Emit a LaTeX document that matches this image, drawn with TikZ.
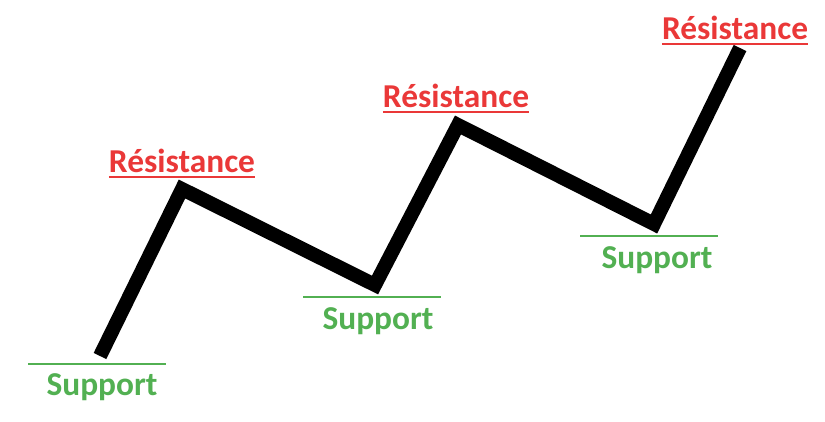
\documentclass[tikz,border=0pt]{standalone}
\usepackage{fontspec}
\setmainfont{Carlito}
\usepackage{tikz}
\usepackage{xcolor}

\definecolor{resred}{RGB}{234,56,56}
\definecolor{supgreen}{RGB}{82,176,82}

\tikzset{
  reslabel/.style={text=resred, font=\bfseries\fontsize{28.5}{30}\selectfont, inner sep=0pt, anchor=base},
  suplabel/.style={text=supgreen, font=\bfseries\fontsize{28.5}{30}\selectfont, inner sep=0pt, anchor=base},
  resline/.style={draw=resred, line width=1.7pt},
  supline/.style={draw=supgreen, line width=0.9pt},
  price/.style={draw=black, line width=12pt, line join=miter}
}

\begin{document}
\begin{tikzpicture}[x=0.03cm, y=-0.03cm]
\useasboundingbox (0,0) rectangle (825,421);

% Cours
\coordinate (p0) at (100,356);
\coordinate (p1) at (182,189);
\coordinate (p2) at (375,285);
\coordinate (p3) at (458,125);
\coordinate (p4) at (654,224);
\coordinate (p5) at (740,48);
\draw[price] (p0) -- (p1) -- (p2) -- (p3) -- (p4) -- (p5);

% Résistances
\node[reslabel] (r1) at (182,172) {Résistance};
\node[reslabel] (r2) at (456,107) {Résistance};
\node[reslabel] (r3) at (735,39) {Résistance};
\foreach \r in {r1,r2,r3} {
    \draw[resline] ([yshift=-0.15cm]\r.south west) -- ([yshift=-0.15cm]\r.south east);
}

% Supports
\draw[supline] (28,364) -- (166,364);
\draw[supline] (303,297) -- (441,297);
\draw[supline] (580,236) -- (718,236);
\node[suplabel] (s1) at (102,395) {Support};
\node[suplabel] (s2) at (378,329) {Support};
\node[suplabel] (s3) at (657,268) {Support};
\end{tikzpicture}
\end{document}
